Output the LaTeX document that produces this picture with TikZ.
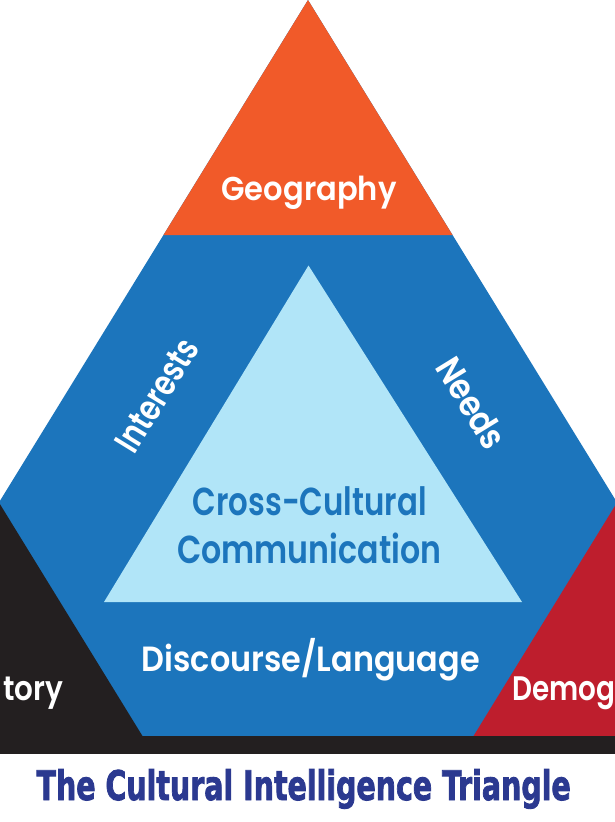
\documentclass[tikz,border=0pt]{standalone}
\usepackage{fontspec}
\setmainfont{Poppins}
\newfontfamily\labelfont{Poppins SemiBold}
\newfontfamily\titlefont{DejaVu Sans Condensed}[FakeBold=2.2]
\definecolor{cOrange}{HTML}{F15A29}
\definecolor{cBlue}{HTML}{1C75BC}
\definecolor{cLight}{HTML}{B1E5F8}
\definecolor{cBlack}{HTML}{231F20}
\definecolor{cRed}{HTML}{BE1E2D}
\definecolor{cTitle}{HTML}{2B3990}
\tikzset{
  lbl/.style={font=\labelfont, text=white, inner sep=0pt},
  innerlbl/.style={font=\labelfont, text=cBlue, inner sep=0pt},
}
\newcommand{\fitto}[3]{\resizebox{#1pt}{\height}{\fontsize{#2}{#2}\selectfont #3}}
\begin{document}
\begin{tikzpicture}[x=1pt,y=-1pt]
\useasboundingbox (0,0) rectangle (615,822);
\fill[white] (0,0) rectangle (615,822);
\begin{scope}
\clip (0,0) rectangle (615,822);
% outer triangle (blue)
\fill[cBlue] (308,0) -- (-145.3,737) -- (761.3,737) -- cycle;
% corner triangles
\fill[cOrange] (308,0) -- (163.5,235) -- (452.5,235) -- cycle;
\fill[cBlack] (-1.04,502.5) -- (-145.3,737) -- (143.1,737) -- cycle;
\fill[cRed] (617.04,502.5) -- (472.9,737) -- (761.3,737) -- cycle;
% inner triangle
\fill[cLight] (308.5,265.5) -- (104,602) -- (522,602) -- cycle;
% bottom bar
\fill[cBlack] (0,736) rectangle (615,753.5);
% labels
\node[lbl, anchor=base] (geo) at (309,200) {\fitto{175}{33}{Geography}};
\node[lbl, rotate=58.4] (int) at (157,395) {\fitto{126}{36}{Interests}};
\node[lbl, rotate=-58.4] (needs) at (471.5,403) {\fitto{100}{36}{Needs}};
\node[innerlbl, anchor=base] (cc1) at (309.7,515) {\fitto{234}{39}{Cross-Cultural}};
\node[innerlbl, anchor=base] (cc2) at (309.2,563.3) {\fitto{264}{39}{Communication}};
\node[lbl, anchor=base] (disc) at (310.8,671) {\fitto{338}{35}{Discourse/Language}};
\node[lbl, anchor=base east] (hist) at (63.3,700) {\fitto{60}{34}{tory}};
\node[lbl, anchor=base west] (demo) at (512.3,700) {\fitto{103}{34}{Demog}};
\end{scope}
\node[anchor=base, inner sep=0pt, text=cTitle] (title) at (303.7,800)
  {\resizebox{534pt}{31pt}{\titlefont\bfseries The Cultural Intelligence Triangle}};
\end{tikzpicture}
\end{document}
